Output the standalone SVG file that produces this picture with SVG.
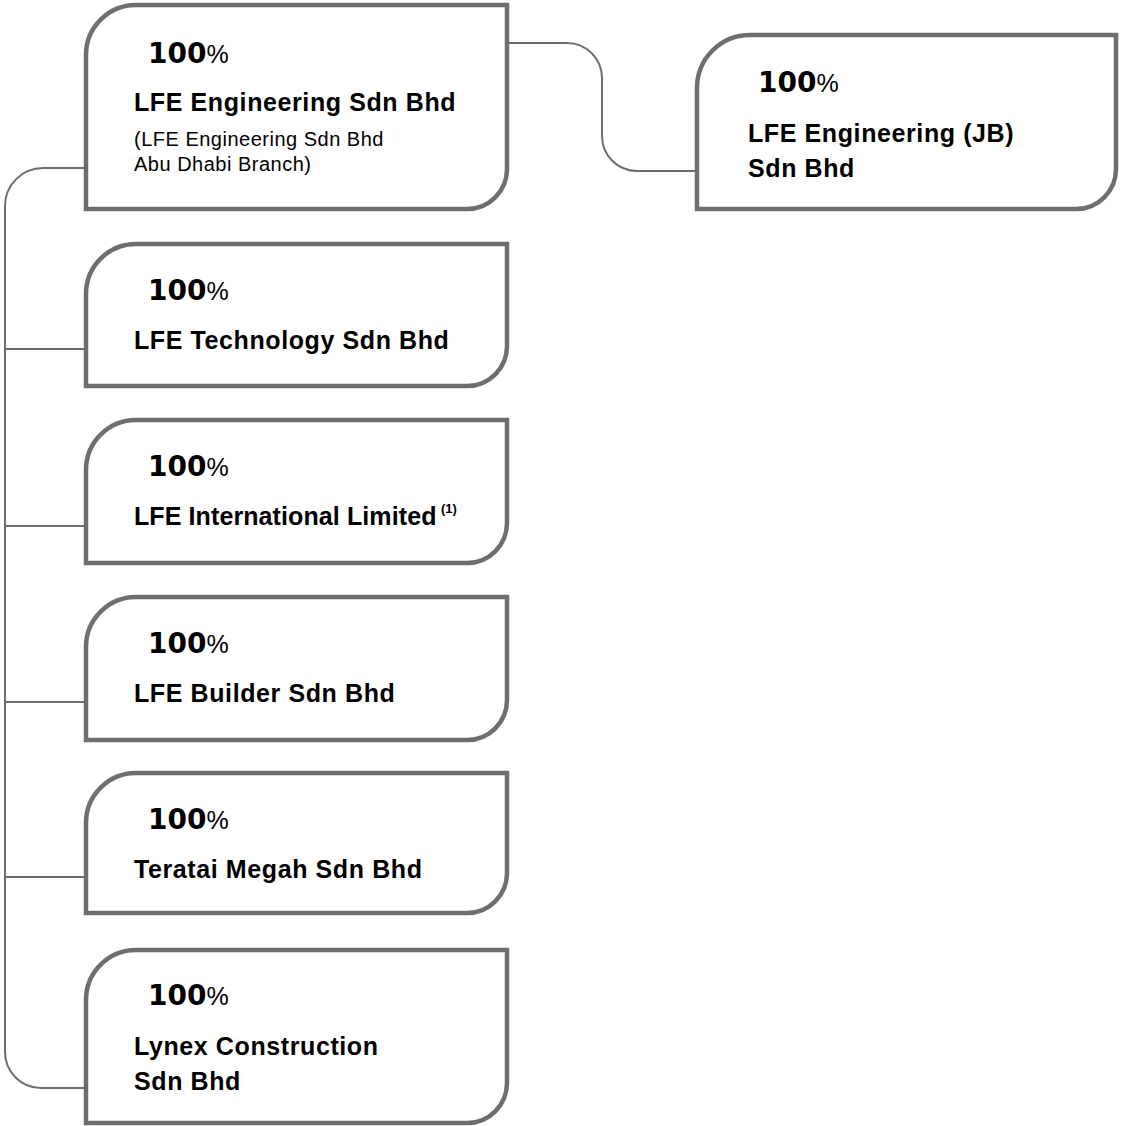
<svg xmlns="http://www.w3.org/2000/svg" width="1121" height="1126" viewBox="0 0 1121 1126">
<style>
.box{fill:#fff;stroke:#6d6e71;stroke-width:4.5}
.con{fill:none;stroke:#6d6e71;stroke-width:2}
.pct{font-family:"DejaVu Sans",sans-serif;font-weight:bold;font-size:28px;fill:#000}
.pc{font-family:"Liberation Sans",Arial,sans-serif;font-weight:normal;font-size:25px}
.nm{font-family:"Liberation Sans",Arial,sans-serif;font-weight:bold;font-size:25px;letter-spacing:0.6px;fill:#000}
.sub{font-family:"Liberation Sans",Arial,sans-serif;font-size:20px;letter-spacing:0.5px;fill:#000}
.sup{font-family:"Liberation Sans",Arial,sans-serif;font-weight:bold;font-size:13px;fill:#000}
</style>
<rect width="1121" height="1126" fill="#fff"/>
<g id="connectors">
<path class="con" d="M507,43 H567 A35,35 0 0 1 602,78 V136 A35,35 0 0 0 637,171 H697"/>
<path class="con" d="M86,168 H43 A38,38 0 0 0 5,206 V1052 A36,36 0 0 0 41,1088 H86"/>
<path class="con" d="M5,349 H86"/>
<path class="con" d="M5,526 H86"/>
<path class="con" d="M5,702 H86"/>
<path class="con" d="M5,877 H86"/>
</g>
<g id="node-lfe-engineering">
<path class="box" d="M86,209 V55 A50,50 0 0 1 136,5 H507 V169 A40,40 0 0 1 467,209 Z"/>
<text class="pct" x="148" y="63">100<tspan class="pc">%</tspan></text>
<text class="nm" x="134" y="111">LFE Engineering Sdn Bhd</text>
<text class="sub" x="134" y="146">(LFE Engineering Sdn Bhd</text>
<text class="sub" x="134" y="171">Abu Dhabi Branch)</text>
</g>
<g id="node-lfe-engineering-jb">
<path class="box" d="M697,209 V88 A53,53 0 0 1 750,35 H1116 V169 A40,40 0 0 1 1076,209 Z"/>
<text class="pct" x="758" y="92">100<tspan class="pc">%</tspan></text>
<text class="nm" x="748" y="142">LFE Engineering (JB)</text>
<text class="nm" x="748" y="177">Sdn Bhd</text>
</g>
<g id="node-lfe-technology">
<path class="box" d="M86,386 V294 A50,50 0 0 1 136,244 H507 V346 A40,40 0 0 1 467,386 Z"/>
<text class="pct" x="148" y="300">100<tspan class="pc">%</tspan></text>
<text class="nm" x="134" y="349">LFE Technology Sdn Bhd</text>
</g>
<g id="node-lfe-international">
<path class="box" d="M86,563 V470 A50,50 0 0 1 136,420 H507 V523 A40,40 0 0 1 467,563 Z"/>
<text class="pct" x="148" y="476">100<tspan class="pc">%</tspan></text>
<text class="nm" x="134" y="525" style="letter-spacing:0.1px">LFE International Limited</text>
<text class="sup" x="441" y="513">(1)</text>
</g>
<g id="node-lfe-builder">
<path class="box" d="M86,740 V647 A50,50 0 0 1 136,597 H507 V700 A40,40 0 0 1 467,740 Z"/>
<text class="pct" x="148" y="653">100<tspan class="pc">%</tspan></text>
<text class="nm" x="134" y="702">LFE Builder Sdn Bhd</text>
</g>
<g id="node-teratai-megah">
<path class="box" d="M86,913 V823 A50,50 0 0 1 136,773 H507 V873 A40,40 0 0 1 467,913 Z"/>
<text class="pct" x="148" y="829">100<tspan class="pc">%</tspan></text>
<text class="nm" x="134" y="878">Teratai Megah Sdn Bhd</text>
</g>
<g id="node-lynex-construction">
<path class="box" d="M86,1123 V1000 A50,50 0 0 1 136,950 H507 V1083 A40,40 0 0 1 467,1123 Z"/>
<text class="pct" x="148" y="1005">100<tspan class="pc">%</tspan></text>
<text class="nm" x="134" y="1055">Lynex Construction</text>
<text class="nm" x="134" y="1090">Sdn Bhd</text>
</g>
</svg>
